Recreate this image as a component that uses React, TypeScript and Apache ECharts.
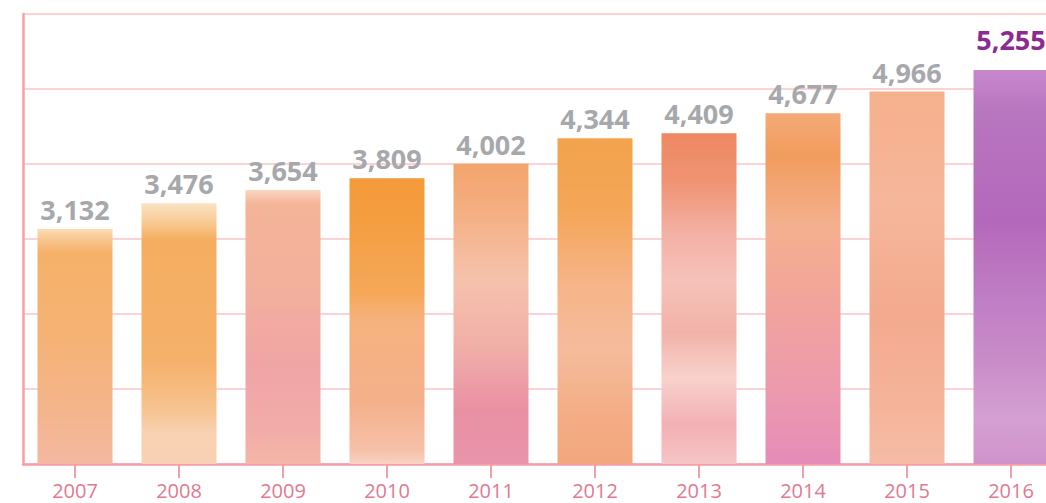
import React, { useEffect, useRef } from "react";
import * as echarts from "echarts";

const categories = ["2007", "2008", "2009", "2010", "2011", "2012", "2013", "2014", "2015", "2016"];
const values = [3132, 3476, 3654, 3809, 4002, 4344, 4409, 4677, 4966, 5255];
const yTicks = [0, 1000, 2000, 3000, 4000, 5000, 6000];

// watercolour-like gradient stops per bar (top -> bottom)
const barPalettes: [number, string][][] = [
  [[0, "#fbdcb4"], [0.05, "#f8c48c"], [0.1, "#f6b168"], [0.45, "#f5b274"], [0.8, "#f4b58e"], [1, "#f4b8a2"]],
  [[0, "#fbe2c2"], [0.06, "#f8cf9c"], [0.14, "#f5ae60"], [0.6, "#f5b06a"], [0.8, "#f7c492"], [0.88, "#f9d2b2"], [1, "#f8d0b4"]],
  [[0, "#fad7c2"], [0.05, "#f4b498"], [0.35, "#f3b09c"], [0.65, "#f0a4a6"], [0.88, "#f2aca8"], [1, "#f4b6a8"]],
  [[0, "#f49a3a"], [0.15, "#f49e40"], [0.4, "#f6a858"], [0.5, "#f6b27e"], [0.78, "#f4b08a"], [0.95, "#f6c0a8"], [1, "#f8d2c2"]],
  [[0, "#f4a46c"], [0.15, "#f4ae80"], [0.38, "#f6c2ac"], [0.6, "#f1b0a8"], [0.82, "#ea90a4"], [1, "#e894aa"]],
  [[0, "#f3a34c"], [0.22, "#f4a658"], [0.45, "#f6b488"], [0.65, "#f5bc9c"], [0.85, "#f4ac84"], [1, "#f3a77e"]],
  [[0, "#ee8862"], [0.15, "#f09474"], [0.3, "#f3b0a4"], [0.45, "#f6c2ba"], [0.6, "#f2b2a8"], [0.74, "#f8d2cc"], [0.88, "#f3b0b4"], [1, "#f6c4c6"]],
  [[0, "#f4aa78"], [0.12, "#f29c5e"], [0.32, "#f4b08e"], [0.58, "#f1a29e"], [0.82, "#ec98b0"], [1, "#e68cb8"]],
  [[0, "#f6b08c"], [0.3, "#f6b69a"], [0.6, "#f3aa8e"], [0.85, "#f5b49a"], [1, "#f6bca6"]],
  [[0, "#c888cc"], [0.1, "#b876c0"], [0.38, "#b468bb"], [0.58, "#c07ec5"], [0.74, "#c98cc9"], [0.88, "#d4a0d2"], [1, "#d092cc"]],
];

export default function App() {
  const ref = useRef<HTMLDivElement>(null);

  useEffect(() => {
    if (!ref.current) return;
    const chart = echarts.init(ref.current, undefined, { renderer: "svg" });

    const data = values.map((v, i) => {
      const stops = barPalettes[i].map(([offset, color]) => ({ offset, color }));
      const item: any = {
        value: v,
        itemStyle: { color: new echarts.graphic.LinearGradient(0, 0, 0, 1, stops) },
      };
      if (i === values.length - 1) {
        item.label = { color: "#8b2b8f", distance: 17 };
      }
      return item;
    });

    chart.setOption({
      animation: false,
      backgroundColor: "#ffffff",
      grid: { left: 23, right: 7, top: 14, bottom: 39, containLabel: false },
      xAxis: {
        type: "category",
        data: categories,
        boundaryGap: true,
        axisLine: { show: true, lineStyle: { color: "#f59ea6", width: 2.5 } },
        axisTick: { show: true, alignWithLabel: true, length: 14, lineStyle: { color: "#f59ea6", width: 2 } },
        axisLabel: {
          show: true,
          margin: 16,
          color: "#e27a8e",
          fontSize: 20,
          fontFamily: "Open Sans",
          fontWeight: 400,
        },
        splitLine: { show: false },
      },
      yAxis: {
        type: "value",
        min: yTicks[0],
        max: yTicks[yTicks.length - 1],
        interval: 1000,
        axisLine: { show: true, lineStyle: { color: "#f6a0a6", width: 2.5 } },
        axisTick: { show: false },
        axisLabel: { show: false },
        splitLine: { show: true, lineStyle: { color: "#fcd3d4", width: 2 } },
      },
      series: [
        {
          type: "bar",
          data,
          barWidth: 75,
          label: {
            show: true,
            position: "top",
            distance: 6,
            color: "#a6a8ab",
            fontSize: 27,
            fontWeight: "bold",
            fontFamily: "Open Sans",
            formatter: (p: any) => Number(p.value).toLocaleString("en-US"),
          },
        },
      ],
    });

    return () => chart.dispose();
  }, []);

  return (
    <div style={{ position: "fixed", left: 0, top: 0, width: 1046, height: 503, overflow: "hidden", background: "#fff" }}>
      <div ref={ref} style={{ width: 1070, height: 503 }} />
    </div>
  );
}
